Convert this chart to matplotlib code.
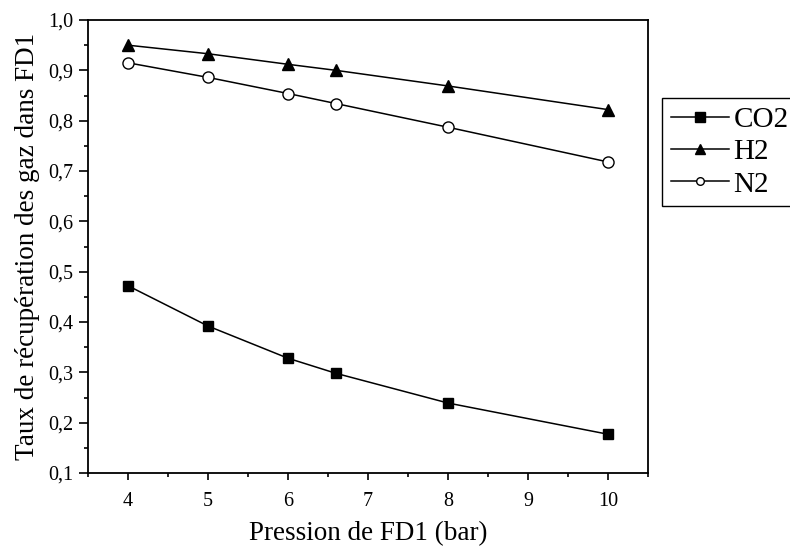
import numpy as np
import matplotlib
matplotlib.use("Agg")
import matplotlib.pyplot as plt
from matplotlib.ticker import MultipleLocator, FuncFormatter

plt.rcParams["font.family"] = ["Liberation Serif", "DejaVu Serif"]

pression = [4, 5, 6, 6.6, 8, 10]
co2 = [0.472, 0.392, 0.328, 0.298, 0.239, 0.177]
h2 = [0.950, 0.933, 0.912, 0.900, 0.869, 0.822]
n2 = [0.915, 0.886, 0.854, 0.834, 0.787, 0.718]

fig = plt.figure(figsize=(7.9, 5.5), dpi=100)
ax = fig.add_axes([0.1114, 0.14, 0.7089, 0.8236])

ax.plot(pression, co2, "-s", color="black", lw=1.1, ms=7, label="CO2")
ax.plot(pression, h2, "-^", color="black", lw=1.1, ms=8, label="H2")
ax.plot(pression, n2, "-o", color="black", lw=1.1, ms=8,
        markerfacecolor="white", label="N2")

ax.set_xlim(3.5, 10.5)
ax.set_ylim(0.1, 1.0)
ax.xaxis.set_major_locator(MultipleLocator(1))
ax.xaxis.set_minor_locator(MultipleLocator(0.5))
ax.yaxis.set_major_locator(MultipleLocator(0.1))
ax.yaxis.set_minor_locator(MultipleLocator(0.05))
ax.yaxis.set_major_formatter(FuncFormatter(lambda v, p: f"{v:.1f}".replace(".", ",")))

ax.tick_params(which="both", direction="out", labelsize=14.5, width=1.2)
ax.tick_params(axis="y", which="major", length=6.5, pad=4)
ax.tick_params(axis="y", which="minor", length=3)
ax.tick_params(axis="x", which="major", length=5, pad=9)
ax.tick_params(axis="x", which="minor", length=3)
for s in ax.spines.values():
    s.set_linewidth(1.3)

ax.set_xlabel("Pression de FD1 (bar)", fontsize=19.5, labelpad=7)
ax.set_ylabel("Taux de récupération des gaz dans FD1", fontsize=19.5, labelpad=6)

leg = ax.legend(loc="upper left", bbox_to_anchor=(662 / 790, 452 / 550),
                bbox_transform=fig.transFigure, fontsize=21, frameon=True,
                fancybox=False, edgecolor="black", framealpha=1,
                borderpad=0.3, borderaxespad=0, handlelength=2.0,
                handletextpad=0.15, labelspacing=0.2)
leg.get_frame().set_linewidth(1.0)
for h, ms in zip(leg.legend_handles, [7, 7.5, 5.5]):
    h.set_markersize(ms)

fig.savefig("out.png", dpi=100)
